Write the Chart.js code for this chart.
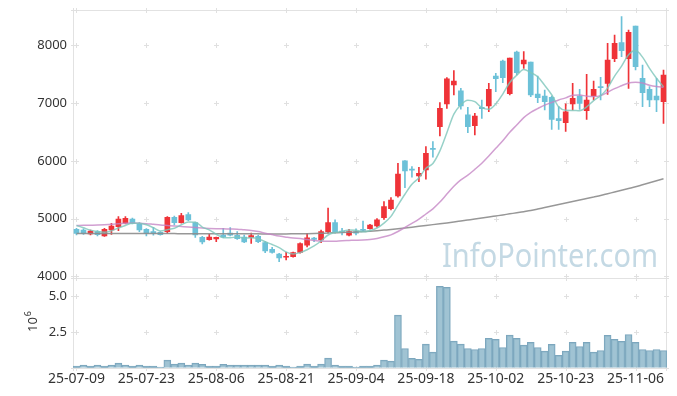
<!DOCTYPE html>
<html><head><meta charset="utf-8">
<script src="https://cdn.jsdelivr.net/npm/chart.js@4/dist/chart.umd.min.js"></script>
<style>html,body{margin:0;padding:0;background:#fff}#wrap{width:677px;height:396px;position:relative}</style>
</head><body><div id="wrap"><canvas id="c" width="677" height="396"></canvas></div>
<script>
const dates = ["25-07-09","25-07-10","25-07-11","25-07-14","25-07-15","25-07-16","25-07-17","25-07-18","25-07-21","25-07-22",
"25-07-23","25-07-24","25-07-25","25-07-28","25-07-29","25-07-30","25-07-31","25-08-01","25-08-04","25-08-05",
"25-08-06","25-08-07","25-08-08","25-08-11","25-08-12","25-08-13","25-08-14","25-08-18","25-08-19","25-08-20",
"25-08-21","25-08-22","25-08-25","25-08-26","25-08-27","25-08-28","25-08-29","25-09-01","25-09-02","25-09-03",
"25-09-04","25-09-05","25-09-08","25-09-09","25-09-10","25-09-11","25-09-12","25-09-15","25-09-16","25-09-17",
"25-09-18","25-09-19","25-09-22","25-09-23","25-09-24","25-09-25","25-09-26","25-09-29","25-09-30","25-10-01",
"25-10-02","25-10-10","25-10-13","25-10-14","25-10-15","25-10-16","25-10-17","25-10-20","25-10-21","25-10-22",
"25-10-23","25-10-24","25-10-27","25-10-28","25-10-29","25-10-30","25-10-31","25-11-03","25-11-04","25-11-05",
"25-11-06","25-11-07","25-11-10","25-11-11","25-11-12"];
const openP = [4814,4802,4733,4773,4698,4802,4860,4918,4993,4906,
4814,4773,4762,4773,5022,4929,5068,4929,4675,4635,
4646,4715,4750,4710,4681,4675,4692,4583,4467,4386,
4330,4340,4415,4540,4660,4630,4773,4930,4775,4710,
4773,4805,4825,4872,5016,5172,5392,5999,5850,5739,
5843,6210,6594,6986,7316,7212,6796,6611,6928,6951,
7471,7731,7165,7887,7679,7713,7159,7124,7101,6732,
6662,6986,7124,6870,7124,7280,7344,7771,8049,7771,
8338,7431,7240,7124,7026];
const highP = [4830,4820,4800,4790,4830,4918,5034,5034,5010,4930,
4825,4850,4775,5034,5045,5090,5102,4940,4690,4727,
4681,4830,4842,4773,4715,4750,4715,4600,4500,4398,
4415,4420,4580,4745,4675,4802,5180,4976,4831,4815,
4820,4958,4900,5000,5293,5363,5958,6005,5900,5889,
6247,6334,7009,7443,7564,7258,6929,6825,7055,7344,
7517,7748,7783,7904,7893,7713,7471,7228,7124,6940,
6990,7344,7240,7500,7384,7448,8037,8182,8500,8268,
8338,7662,7286,7431,7575];
const lowP = [4715,4725,4715,4700,4690,4727,4790,4905,4905,4773,
4700,4710,4710,4745,4890,4918,4964,4675,4560,4625,
4600,4670,4698,4640,4583,4570,4583,4409,4398,4253,
4282,4330,4400,4510,4600,4583,4745,4745,4716,4700,
4716,4773,4815,4850,4987,5149,5370,5536,5716,5640,
5681,6062,6432,6911,7142,6894,6490,6449,6737,6853,
7199,7355,7141,7488,7604,7113,7009,6881,6547,6547,
6510,6882,6893,6720,7055,7055,7153,7720,7806,7257,
7575,6940,6940,6853,6651];
const closeP = [4744,4744,4785,4721,4814,4871,4993,5004,4918,4802,
4744,4744,4721,5022,4929,5050,4975,4715,4594,4681,
4675,4681,4710,4652,4594,4704,4600,4438,4415,4317,
4340,4410,4565,4668,4640,4773,4930,4773,4765,4773,
4745,4795,4889,4976,5207,5322,5773,5825,5840,5785,
6131,6200,6911,7420,7385,6952,6594,6778,6905,7240,
7425,7442,7783,7529,7748,7142,7095,7026,6720,6697,
6848,7084,6997,7055,7240,7270,7748,8037,7910,8228,
7633,7182,7055,7055,7488];
// volume in millions of shares
const volumeM = [0.12,0.19,0.12,0.19,0.12,0.19,0.32,0.19,0.12,0.19,
0.12,0.12,0.04,0.53,0.25,0.32,0.19,0.32,0.23,0.12,
0.12,0.23,0.19,0.19,0.19,0.19,0.19,0.19,0.12,0.19,
0.12,0.04,0.12,0.25,0.12,0.25,0.67,0.19,0.12,0.12,
0.04,0.12,0.12,0.19,0.53,0.46,3.66,1.34,0.65,0.58,
1.64,1.09,5.67,5.60,1.85,1.64,1.34,1.27,1.34,2.04,
1.97,1.41,2.27,2.04,1.57,1.76,1.41,1.16,1.62,0.86,
1.16,1.76,1.48,1.76,1.09,1.20,2.25,1.97,1.83,2.31,
1.76,1.27,1.20,1.27,1.20];
const ma5 = [4880,4840,4800,4775,4762,4787,4837,4881,4920,4918,
4892,4842,4786,4807,4832,4893,4939,4938,4853,4803,
4728,4669,4668,4680,4662,4668,4652,4598,4550,4495,
4422,4384,4409,4460,4525,4611,4715,4757,4776,4803,
4797,4770,4793,4836,4922,5038,5233,5421,5593,5709,
5871,5956,6173,6489,6809,6974,7052,7026,6923,6894,
6988,7158,7359,7484,7585,7529,7459,7308,7146,6936,
6877,6875,6869,6936,7045,7129,7262,7470,7641,7839,
7911,7798,7602,7431,7283];
const ma20 = [4880,4882,4885,4888,4893,4900,4910,4918,4922,4920,
4912,4900,4888,4880,4872,4862,4852,4843,4835,4829,
4825,4822,4818,4815,4804,4795,4776,4747,4722,4698,
4678,4661,4653,4636,4621,4607,4605,4608,4617,4621,
4625,4630,4639,4656,4686,4717,4776,4845,4916,4990,
5079,5169,5286,5424,5561,5670,5753,5853,5960,6084,
6218,6350,6495,6622,6749,6840,6907,6967,7011,7056,
7092,7136,7141,7122,7115,7131,7189,7252,7302,7351,
7362,7349,7312,7289,7276];
const ma120 = [4742,4742,4742,4741,4741,4741,4741,4741,4740,4740,
4740,4740,4739,4739,4739,4738,4738,4738,4737,4737,
4736,4736,4736,4735,4735,4735,4735,4734,4734,4734,
4734,4735,4736,4738,4741,4745,4750,4754,4758,4763,
4768,4775,4782,4790,4800,4810,4822,4835,4850,4865,
4880,4895,4910,4925,4941,4958,4975,4992,5010,5027,
5045,5063,5082,5100,5120,5140,5165,5192,5218,5244,
5270,5296,5322,5348,5374,5400,5430,5460,5490,5520,
5550,5585,5620,5655,5690];
const priceTicks = [4000,5000,6000,7000,8000];
const volumeTicks = [2.5,5.0];
const watermark = "InfoPointer.com";

const UP = '#ef3338', DOWN = '#6cc1d8';
const candleColor = (i) => closeP[i] >= openP[i] ? UP : DOWN;
const wicks = dates.map((d,i)=>[lowP[i], highP[i]]);
const bodies = dates.map((d,i)=>[openP[i], closeP[i]]);

const deco = {
  id:'deco',
  beforeDatasetsDraw(chart){
    const {ctx, chartArea:a, scales} = chart;
    const xs = scales.x, ys = scales.y, yv = scales.vol;
    ctx.save();
    ctx.font = '32px "Noto Sans"';
    const w = ctx.measureText(watermark).width;
    ctx.fillStyle = 'rgba(176,204,219,0.75)';
    ctx.textBaseline = 'alphabetic';
    ctx.translate(442, 267);
    ctx.scale(216/w, 1);
    ctx.fillText(watermark, 0, 0);
    ctx.restore();
    ctx.save();
    ctx.strokeStyle = '#e2e2e2';
    ctx.lineWidth = 1;
    const L = Math.round(a.left)+0.5, R = Math.round(a.right)-0.5;
    const T = Math.round(a.top)+0.5, B = Math.round(a.bottom)+0.5;
    const S = Math.round(ys.bottom)+0.5;
    ctx.beginPath();
    ctx.moveTo(L,T); ctx.lineTo(R,T); ctx.lineTo(R,B); ctx.lineTo(L,B); ctx.closePath();
    ctx.moveTo(L,S); ctx.lineTo(R,S);
    ctx.stroke();
    ctx.strokeStyle = '#e0e0e0';
    const ylist = [T, S, B];
    priceTicks.forEach(v=>ylist.push(Math.round(ys.getPixelForValue(v))+0.5));
    volumeTicks.forEach(v=>ylist.push(Math.round(yv.getPixelForValue(v))+0.5));
    const xlist = [L, R];
    for (let i=0;i<dates.length;i+=10) xlist.push(Math.round(xs.getPixelForValue(i))+0.5);
    ctx.beginPath();
    xlist.forEach(x=>ylist.forEach(y=>{
      ctx.moveTo(x-2.5,y); ctx.lineTo(x+2.5,y);
      ctx.moveTo(x,y-2.5); ctx.lineTo(x,y+2.5);
    }));
    ctx.stroke();
    ctx.restore();
  },
  afterDraw(chart){
    const ctx = chart.ctx;
    ctx.save();
    ctx.fillStyle = '#333';
    ctx.translate(37, 332);
    ctx.rotate(-Math.PI/2);
    ctx.textBaseline = 'alphabetic';
    ctx.font = '13px "Noto Sans"';
    ctx.fillText('10', 0, 0);
    const w = ctx.measureText('10').width;
    ctx.font = '9px "Noto Sans"';
    ctx.fillText('6', w+1, -6);
    ctx.restore();
  }
};

const zeroPad = s => { s.paddingTop = 0; s.paddingBottom = 0; s.paddingLeft = 0; s.paddingRight = 0; };

new Chart(document.getElementById('c'), {
  type:'bar',
  data:{
    labels: dates,
    datasets:[
      {type:'line', label:'MA5', data: ma5, yAxisID:'y', borderColor:'rgba(125,198,186,0.8)', borderWidth:1.5, pointRadius:0, cubicInterpolationMode:'monotone', order:0},
      {type:'line', label:'MA20', data: ma20, yAxisID:'y', borderColor:'rgba(196,132,196,0.78)', borderWidth:1.5, pointRadius:0, cubicInterpolationMode:'monotone', order:0},
      {type:'line', label:'MA120', data: ma120, yAxisID:'y', borderColor:'rgba(140,140,140,0.9)', borderWidth:1.5, pointRadius:0, cubicInterpolationMode:'monotone', order:0},
      {label:'body', data: bodies, yAxisID:'y', grouped:false, barThickness:5, minBarLength:1,
        backgroundColor: c=>candleColor(c.dataIndex), borderWidth:0, order:1},
      {label:'wick', data: wicks, yAxisID:'y', grouped:false, barThickness:1,
        backgroundColor: c=>candleColor(c.dataIndex), borderWidth:0, order:2},
      {label:'volume', data: volumeM, yAxisID:'vol', grouped:false, barPercentage:1, categoryPercentage:1,
        backgroundColor:'rgba(143,184,203,0.85)', borderColor:'#7ca6bd', borderWidth:1, order:3}
    ]
  },
  options:{
    responsive:false, animation:false,
    layout:{padding:{left:0,right:10,top:10,bottom:0}},
    plugins:{legend:{display:false}, tooltip:{enabled:false}},
    scales:{
      x:{offset:true, grid:{display:false, drawTicks:false}, border:{display:false},
        ticks:{autoSkip:false, maxRotation:0, minRotation:0, padding:3, color:'#333', font:{family:'"Noto Sans"', size:14},
          callback:(v,i)=> i%10===0 ? dates[i] : ''},
        afterFit:s=>{ s.height = 28.3; zeroPad(s); }},
      vol:{position:'left', stack:'panel', stackWeight:1, min:0, max:6.23,
        grid:{display:false, drawTicks:false}, border:{display:false},
        ticks:{padding:6, color:'#333', font:{family:'"Noto Sans"', size:13}, callback:v=>v.toFixed(1)},
        afterBuildTicks:s=>{s.ticks = volumeTicks.map(v=>({value:v}));},
        afterFit:s=>{ s.width = 73; zeroPad(s); }},
      y:{position:'left', stack:'panel', stackWeight:3, min:3965, max:8615,
        grid:{display:false, drawTicks:false}, border:{display:false},
        ticks:{padding:6, color:'#333', font:{family:'"Noto Sans"', size:13}, callback:v=>String(v)},
        afterBuildTicks:s=>{s.ticks = priceTicks.map(v=>({value:v}));},
        afterFit:s=>{ s.width = 73; zeroPad(s); }}
    }
  },
  plugins:[deco]
});
</script></body></html>
